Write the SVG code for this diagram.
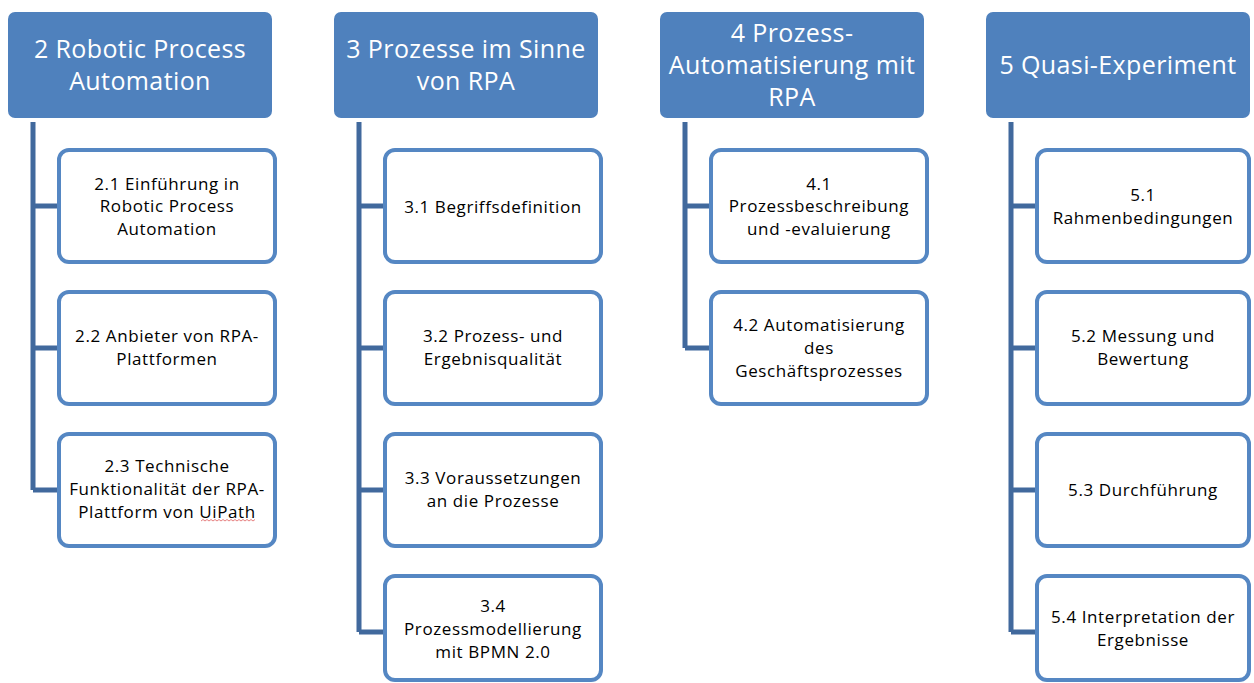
<svg xmlns="http://www.w3.org/2000/svg" width="1254" height="683" viewBox="0 0 1254 683">
<style>
.hdr{fill:#4f81bd;}
.hdr-t{fill:#ffffff;font-family:"Open Sans","Liberation Sans",sans-serif;font-size:25px;letter-spacing:0.4px;text-anchor:middle;}
.box{fill:#ffffff;stroke:#5587c3;stroke-width:4;}
.box-t{fill:#000000;font-family:"Open Sans","Liberation Sans",sans-serif;font-size:17px;letter-spacing:0.6px;text-anchor:middle;}
.conn{fill:none;stroke:#41699d;stroke-width:5;stroke-linejoin:miter;}
</style>
<rect width="1254" height="683" fill="#ffffff"/>
<g id="connectors">
<path class="conn" d="M33 122 V490 M33 206 H58 M33 348 H58 M33 490 H58"/>
<path class="conn" d="M359 122 V632 M359 206 H384 M359 348 H384 M359 490 H384 M359 632 H384"/>
<path class="conn" d="M685 122 V348 M685 206 H710 M685 348 H710"/>
<path class="conn" d="M1011 122 V632 M1011 206 H1036 M1011 348 H1036 M1011 490 H1036 M1011 632 H1036"/>
</g>
<g id="n2">
<rect class="hdr" x="8" y="12" width="264" height="106" rx="7"/>
<text class="hdr-t" x="140" y="58">2 Robotic Process</text>
<text class="hdr-t" x="140" y="90">Automation</text>
</g>
<g id="n2_1">
<rect class="box" x="59" y="150" width="216" height="112" rx="10"/>
<text class="box-t" x="167" y="190">2.1 Einführung in</text>
<text class="box-t" x="167" y="212">Robotic Process</text>
<text class="box-t" x="167" y="235">Automation</text>
</g>
<g id="n2_2">
<rect class="box" x="59" y="292" width="216" height="112" rx="10"/>
<text class="box-t" x="167" y="342">2.2 Anbieter von RPA-</text>
<text class="box-t" x="167" y="365">Plattformen</text>
</g>
<g id="n2_3">
<rect class="box" x="59" y="434" width="216" height="112" rx="10"/>
<text class="box-t" x="167" y="472">2.3 Technische</text>
<text class="box-t" x="167" y="495">Funktionalität der RPA-</text>
<text class="box-t" x="167" y="518">Plattform von UiPath</text>
<path d="M201 521 l2 -1.5 l2 1.5 l2 -1.5 l2 1.5 l2 -1.5 l2 1.5 l2 -1.5 l2 1.5 l2 -1.5 l2 1.5 l2 -1.5 l2 1.5 l2 -1.5 l2 1.5 l2 -1.5 l2 1.5 l2 -1.5 l2 1.5 l2 -1.5 l2 1.5 l2 -1.5 l2 1.5 l2 -1.5 l2 1.5 l2 -1.5 l2 1.5 l2 -1.5" fill="none" stroke="#e06060" stroke-width="0.8"/>
</g>
<g id="n3">
<rect class="hdr" x="334" y="12" width="264" height="106" rx="7"/>
<text class="hdr-t" x="466" y="58">3 Prozesse im Sinne</text>
<text class="hdr-t" x="466" y="90">von RPA</text>
</g>
<g id="n3_1">
<rect class="box" x="385" y="150" width="216" height="112" rx="10"/>
<text class="box-t" x="493" y="213">3.1 Begriffsdefinition</text>
</g>
<g id="n3_2">
<rect class="box" x="385" y="292" width="216" height="112" rx="10"/>
<text class="box-t" x="493" y="342">3.2 Prozess- und</text>
<text class="box-t" x="493" y="365">Ergebnisqualität</text>
</g>
<g id="n3_3">
<rect class="box" x="385" y="434" width="216" height="112" rx="10"/>
<text class="box-t" x="493" y="484">3.3 Voraussetzungen</text>
<text class="box-t" x="493" y="507">an die Prozesse</text>
</g>
<g id="n3_4">
<rect class="box" x="385" y="576" width="216" height="104" rx="10"/>
<text class="box-t" x="493" y="612">3.4</text>
<text class="box-t" x="493" y="635">Prozessmodellierung</text>
<text class="box-t" x="493" y="658">mit BPMN 2.0</text>
</g>
<g id="n4">
<rect class="hdr" x="660" y="12" width="264" height="106" rx="7"/>
<text class="hdr-t" x="792" y="42">4 Prozess-</text>
<text class="hdr-t" x="792" y="74">Automatisierung mit</text>
<text class="hdr-t" x="792" y="106">RPA</text>
</g>
<g id="n4_1">
<rect class="box" x="711" y="150" width="216" height="112" rx="10"/>
<text class="box-t" x="819" y="190">4.1</text>
<text class="box-t" x="819" y="212">Prozessbeschreibung</text>
<text class="box-t" x="819" y="235">und -evaluierung</text>
</g>
<g id="n4_2">
<rect class="box" x="711" y="292" width="216" height="112" rx="10"/>
<text class="box-t" x="819" y="331">4.2 Automatisierung</text>
<text class="box-t" x="819" y="354">des</text>
<text class="box-t" x="819" y="377">Geschäftsprozesses</text>
</g>
<g id="n5">
<rect class="hdr" x="986" y="12" width="264" height="106" rx="7"/>
<text class="hdr-t" x="1118" y="74">5 Quasi-Experiment</text>
</g>
<g id="n5_1">
<rect class="box" x="1037" y="150" width="212" height="112" rx="10"/>
<text class="box-t" x="1143" y="201">5.1</text>
<text class="box-t" x="1143" y="224">Rahmenbedingungen</text>
</g>
<g id="n5_2">
<rect class="box" x="1037" y="292" width="212" height="112" rx="10"/>
<text class="box-t" x="1143" y="342">5.2 Messung und</text>
<text class="box-t" x="1143" y="365">Bewertung</text>
</g>
<g id="n5_3">
<rect class="box" x="1037" y="434" width="212" height="112" rx="10"/>
<text class="box-t" x="1143" y="496">5.3 Durchführung</text>
</g>
<g id="n5_4">
<rect class="box" x="1037" y="576" width="212" height="104" rx="10"/>
<text class="box-t" x="1143" y="623">5.4 Interpretation der</text>
<text class="box-t" x="1143" y="646">Ergebnisse</text>
</g>
</svg>
